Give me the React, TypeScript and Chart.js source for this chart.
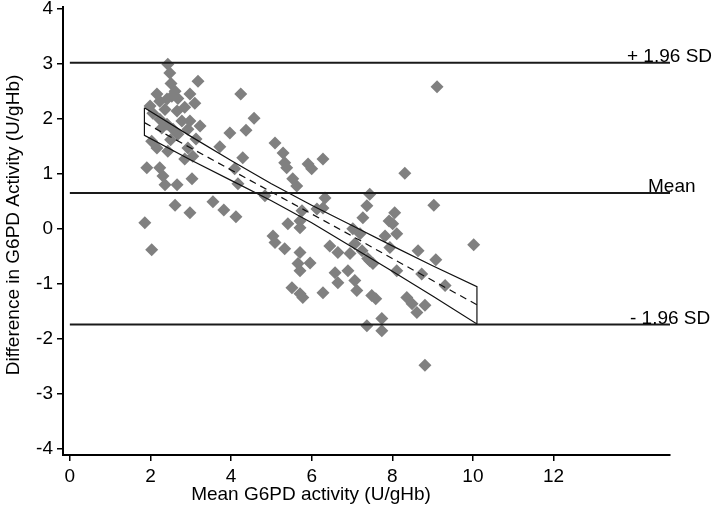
import React, { useEffect, useRef } from 'react';
import { Chart, registerables } from 'chart.js';
Chart.register(...registerables);

const xTicks = [0, 2, 4, 6, 8, 10, 12];
const yTicks = [-4, -3, -2, -1, 0, 1, 2, 3, 4];
const xTitle = 'Mean G6PD activity (U/gHb)';
const yTitle = 'Difference in G6PD Activity (U/gHb)';

const meanActivity = [
  2.43, 2.48, 2.51, 3.18, 4.24, 2.98, 3.10, 2.61, 2.23, 2.41, 2.53, 2.68, 1.99, 2.06, 2.66, 2.78, 2.98, 2.23, 2.41, 4.57,
  4.37, 3.97, 5.09, 3.72, 2.68, 2.93, 2.03, 2.16, 2.43, 2.85, 2.93, 4.29, 1.91, 2.23, 2.31, 2.36, 2.66, 3.03, 4.09, 4.17,
  4.84, 2.61, 2.98, 3.55, 3.82, 4.12, 1.86, 2.03, 2.28, 2.56, 2.36, 2.85, 2.16, 3.23, 3.13, 5.29, 5.33, 5.38, 6.28, 5.91,
  6.00, 5.53, 5.63, 6.33, 7.44, 7.37, 5.76, 6.13, 6.28, 5.41, 5.71, 5.71, 7.27, 7.02, 5.09, 5.33, 5.04, 5.71, 5.96, 5.66,
  5.71, 6.45, 6.65, 6.95, 7.07, 7.12, 6.90, 6.58, 6.65, 6.28, 5.51, 5.71, 5.78, 7.49, 7.59, 7.44, 7.07, 7.37, 7.74, 7.74,
  7.20, 7.39, 7.52, 7.82, 8.11, 8.01, 8.11, 8.31, 9.03, 7.92, 8.06, 8.64, 9.08, 10.02, 7.94, 7.25, 8.73, 9.31, 8.36, 8.49,
  8.81, 8.61, 8.81, 9.11, 3.05, 2.50,
];
const difference = [
  2.99, 2.83, 2.64, 2.68, 2.45, 2.45, 2.28, 2.50, 2.32, 2.36, 2.41, 2.37, 2.23, 2.10, 2.14, 1.96, 1.96, 1.99, 1.90, 2.01,
  1.79, 1.74, 1.56, 1.49, 1.72, 1.81, 1.59, 1.47, 1.41, 1.27, 1.47, 1.29, 1.11, 1.11, 0.96, 0.80, 0.80, 0.91, 1.09, 0.82,
  0.60, 0.43, 0.29, 0.49, 0.34, 0.22, 0.11, -0.38, 1.83, 1.81, 2.17, 2.21, 2.45, 1.87, 1.63, 1.38, 1.20, 1.11, 1.27, 1.18,
  1.09, 0.91, 0.78, 0.56, 0.63, 0.42, 0.33, 0.36, 0.38, 0.09, 0.14, 0.02, 0.20, 0.00, -0.25, -0.36, -0.13, -0.43, -0.62, -0.63,
  -0.76, -0.31, -0.43, -0.45, -0.94, -1.12, -0.76, -0.80, -0.98, -1.16, -1.07, -1.18, -1.25, -1.21, -1.27, -0.58, -0.27, -1.76, -1.63, -1.85,
  -0.09, -0.54, -0.63, -0.13, -0.09, 0.09, -0.76, 1.01, 0.43, 0.14, 0.29, -0.40, -0.56, -0.29, -0.34, -0.40, -0.82, -1.03, -1.25, -1.36,
  -1.39, -1.52, -2.48, 2.58, 1.32, 1.62,
];

const bandX = [1.85, 3, 4, 5, 6, 7, 8, 9, 10.1];
const bandMid = [1.93, 1.47, 1.07, 0.67, 0.27, -0.13, -0.54, -0.94, -1.38];
const bandUpper = [2.2, 1.68, 1.24, 0.82, 0.43, 0.06, -0.31, -0.67, -1.05];
const bandLower = [1.7, 1.25, 0.88, 0.51, 0.11, -0.33, -0.77, -1.22, -1.73];

const refLevels = [3.02, 0.65, -1.74];
const refLabels = ['+ 1.96 SD', 'Mean', '- 1.96 SD'];
const xMin = -0.17;
const xMax = 14.89;
const yMin = -4.11;
const yMax = 4.04;

const FONT = '"Liberation Sans", Arial, sans-serif';

export default function App() {
  const ref = useRef<HTMLCanvasElement | null>(null);
  useEffect(() => {
    const canvas = ref.current;
    if (!canvas) return;
    const points = meanActivity.map((x, i) => ({ x, y: difference[i] }));
    const poly = [
      ...bandX.map((x, i) => ({ x, y: bandUpper[i] })),
      ...bandX.map((x, i) => ({ x, y: bandLower[i] })).reverse(),
    ];
    poly.push(poly[0]);
    const mid = bandX.map((x, i) => ({ x, y: bandMid[i] }));
    const refSets = refLevels.map((lv) => ({
      type: 'line' as const,
      data: [{ x: 0, y: lv }, { x: xMax, y: lv }],
      borderColor: '#1a1a1a',
      borderWidth: 2,
      pointRadius: 0,
      fill: false,
      tension: 0,
    }));

    const textPlugin = {
      id: 'texts',
      afterDatasetsDraw(chart: any) {
        const ctx = chart.ctx;
        const { left, bottom } = chart.chartArea;
        const ys = chart.scales.y;
        ctx.save();
        ctx.fillStyle = '#000';
        ctx.font = `19px ${FONT}`;
        ctx.textBaseline = 'alphabetic';
        ctx.textAlign = 'left';
        const xs = [627, 648, 630];
        refLevels.forEach((lv, i) => {
          ctx.fillText(refLabels[i], xs[i], ys.getPixelForValue(lv) - 1);
        });
        ctx.textAlign = 'center';
        ctx.textBaseline = 'middle';
        ctx.fillText(xTitle, 311, bottom + 40);
        ctx.translate(left - 49, 225);
        ctx.rotate(-Math.PI / 2);
        ctx.fillText(yTitle, 0, 0);
        ctx.restore();
      },
    };

    const chart = new Chart(canvas, {
      type: 'scatter',
      data: {
        datasets: [
          ...refSets,
          {
            type: 'line',
            data: poly,
            borderColor: '#111',
            borderWidth: 1.2,
            pointRadius: 0,
            fill: false,
            tension: 0,
          },
          {
            type: 'line',
            data: mid,
            borderColor: '#111',
            borderWidth: 1.2,
            borderDash: [7, 5],
            pointRadius: 0,
            fill: false,
            tension: 0,
          },
          {
            type: 'scatter',
            data: points,
            pointStyle: 'rectRot',
            pointRadius: 6.5,
            backgroundColor: '#808080',
            borderWidth: 0,
          },
        ] as any,
      },
      options: {
        animation: false,
        responsive: false,
        maintainAspectRatio: false,
        layout: { padding: { top: 5, right: 48, left: 0, bottom: 0 } },
        plugins: { legend: { display: false }, tooltip: { enabled: false }, title: { display: false } },
        scales: {
          x: {
            type: 'linear',
            min: xMin,
            max: xMax,
            afterBuildTicks: (s: any) => {
              s.ticks = xTicks.map((v) => ({ value: v }));
            },
            afterFit: (s: any) => {
              s.height = 64;
              s.paddingLeft = 0;
              s.paddingRight = 0;
            },
            ticks: { font: { size: 19, family: FONT }, color: '#000', padding: 4, maxRotation: 0, autoSkip: false },
            grid: { drawOnChartArea: false, drawTicks: true, tickLength: 6, color: '#000', lineWidth: 1.5 },
            border: { display: true, color: '#000', width: 2 },
          },
          y: {
            type: 'linear',
            min: yMin,
            max: yMax,
            afterBuildTicks: (s: any) => {
              s.ticks = yTicks.map((v) => ({ value: v }));
            },
            afterFit: (s: any) => {
              s.width = 63;
              s.paddingTop = 0;
              s.paddingBottom = 0;
            },
            ticks: { font: { size: 19, family: FONT }, color: '#000', padding: 4, autoSkip: false },
            grid: { drawOnChartArea: false, drawTicks: true, tickLength: 6, color: '#000', lineWidth: 1.5 },
            border: { display: true, color: '#000', width: 2 },
          },
        },
      },
      plugins: [textPlugin],
    });
    return () => chart.destroy();
  }, []);

  return (
    <div style={{ position: 'fixed', left: 0, top: 0, width: 718, height: 519, background: '#fff' }}>
      <canvas ref={ref} width={718} height={519} style={{ width: 718, height: 519, display: 'block' }} />
    </div>
  );
}
